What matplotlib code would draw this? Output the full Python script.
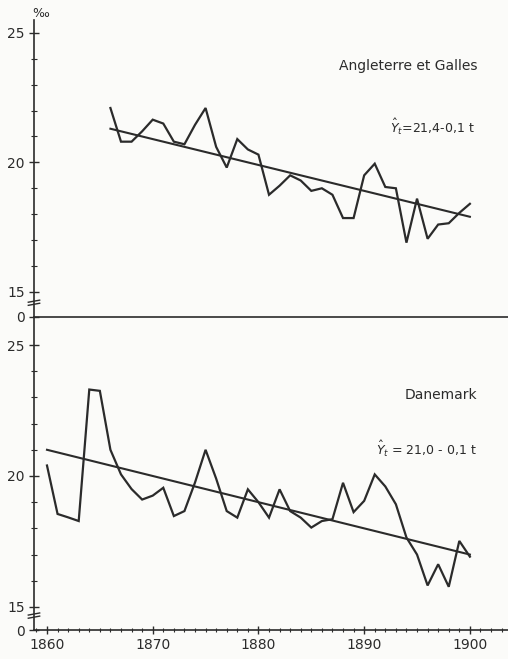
import numpy as np
import matplotlib
matplotlib.use("Agg")
import matplotlib.pyplot as plt
from matplotlib.ticker import MultipleLocator, FixedLocator

plt.rcParams['font.family'] = ['DejaVu Sans']
plt.rcParams['mathtext.fontset'] = 'dejavusans'

# natalite, pour mille
years_ew = list(range(1866, 1901))
ew = [22.1, 20.8, 20.8, 21.2, 21.65, 21.5, 20.8, 20.7, 21.45, 22.1,
      20.6, 19.8, 20.9, 20.5, 20.3, 18.75, 19.1, 19.5, 19.3, 18.9,
      19.0, 18.75, 17.85, 17.85, 19.5, 19.95, 19.05, 19.0, 16.9, 18.6,
      17.05, 17.6, 17.65, 18.05, 18.4]
trend_ew_years = [1866, 1900]
trend_ew = [21.3, 17.9]

years_dk = list(range(1860, 1901))
dk = [20.4, 18.55, 18.42, 18.28, 23.3, 23.25, 21.0, 20.06, 19.5, 19.1,
      19.25, 19.55, 18.47, 18.66, 19.75, 21.0, 19.9, 18.66, 18.41, 19.49,
      19.0, 18.41, 19.49, 18.66, 18.41, 18.03, 18.28, 18.35, 19.74, 18.62,
      19.05, 20.06, 19.6, 18.92, 17.65, 17.0, 15.82, 16.63, 15.77, 17.52,
      16.92]
trend_dk_years = [1860, 1900]
trend_dk = [21.0, 17.0]

title_ew = "Angleterre et Galles"
eq_ew = r"$\hat{Y}_t$=21,4-0,1 t"
title_dk = "Danemark"
eq_dk = r"$\hat{Y}_t$ = 21,0 - 0,1 t"
ytick_vals = [15, 20, 25]
xtick_vals = [1860, 1870, 1880, 1890, 1900]

ink = '#2b2b2b'
bg = '#fbfbf9'

fig = plt.figure(figsize=(5.08, 6.59), dpi=100, facecolor=bg)
ax1 = fig.add_axes([0.0669, 0.519, 0.933, 0.4507])
ax2 = fig.add_axes([0.0669, 0.044, 0.933, 0.475])

def style(ax, ylo, yhi):
    ax.set_facecolor('none')
    ax.set_xlim(1858.77, 1903.6)
    ax.set_ylim(ylo, yhi)
    for s in ['top', 'right']:
        ax.spines[s].set_visible(False)
    for s in ['left', 'bottom']:
        ax.spines[s].set_color(ink)
        ax.spines[s].set_linewidth(1.2)
    ax.yaxis.set_major_locator(FixedLocator([ylo] + ytick_vals))
    ax.set_yticklabels(['0'] + [str(v) for v in ytick_vals])
    ax.yaxis.set_minor_locator(FixedLocator(list(range(15, 26))))
    ax.tick_params(axis='y', which='major', direction='inout', length=7,
                   width=1.0, color=ink, labelsize=10, labelcolor=ink, pad=3)
    ax.tick_params(axis='y', which='minor', direction='inout', length=4,
                   width=0.8, color=ink)
    # axis break mark
    yb = ylo + 0.45
    for d in (0.0, 0.12):
        ax.plot([-0.012, 0.012], [yb + d, yb + d + 0.08], color=ink, lw=1.0,
                transform=ax.get_yaxis_transform(), clip_on=False)

style(ax1, 14.03, 25.5)
style(ax2, 14.12, 26.07)

ax1.set_xticks([])
ax1.plot(years_ew, ew, color=ink, lw=1.6, solid_joinstyle='miter')
ax1.plot(trend_ew_years, trend_ew, color=ink, lw=1.5)
ax1.text(0.935, 0.845, title_ew, transform=ax1.transAxes, ha='right',
         va='center', fontsize=10, color=ink)
ax1.text(0.93, 0.64, eq_ew, transform=ax1.transAxes, ha='right',
         va='center', fontsize=9, color=ink)
ax1.text(-0.003, 1.0, '‰', transform=ax1.transAxes, ha='left',
         va='bottom', fontsize=9, color=ink)

ax2.plot(years_dk, dk, color=ink, lw=1.6, solid_joinstyle='miter')
ax2.plot(trend_dk_years, trend_dk, color=ink, lw=1.5)
ax2.set_xticks(xtick_vals)
ax2.xaxis.set_minor_locator(MultipleLocator(1))
ax2.tick_params(axis='x', which='major', direction='inout', length=6,
                width=1.0, color=ink, labelsize=10, labelcolor=ink, pad=3)
ax2.tick_params(axis='x', which='minor', direction='inout', length=3,
                width=0.8, color=ink)
ax2.text(0.935, 0.75, title_dk, transform=ax2.transAxes, ha='right',
         va='center', fontsize=10, color=ink)
ax2.text(0.935, 0.58, eq_dk, transform=ax2.transAxes, ha='right',
         va='center', fontsize=9, color=ink)

fig.savefig('out.png', dpi=100, facecolor=bg)
